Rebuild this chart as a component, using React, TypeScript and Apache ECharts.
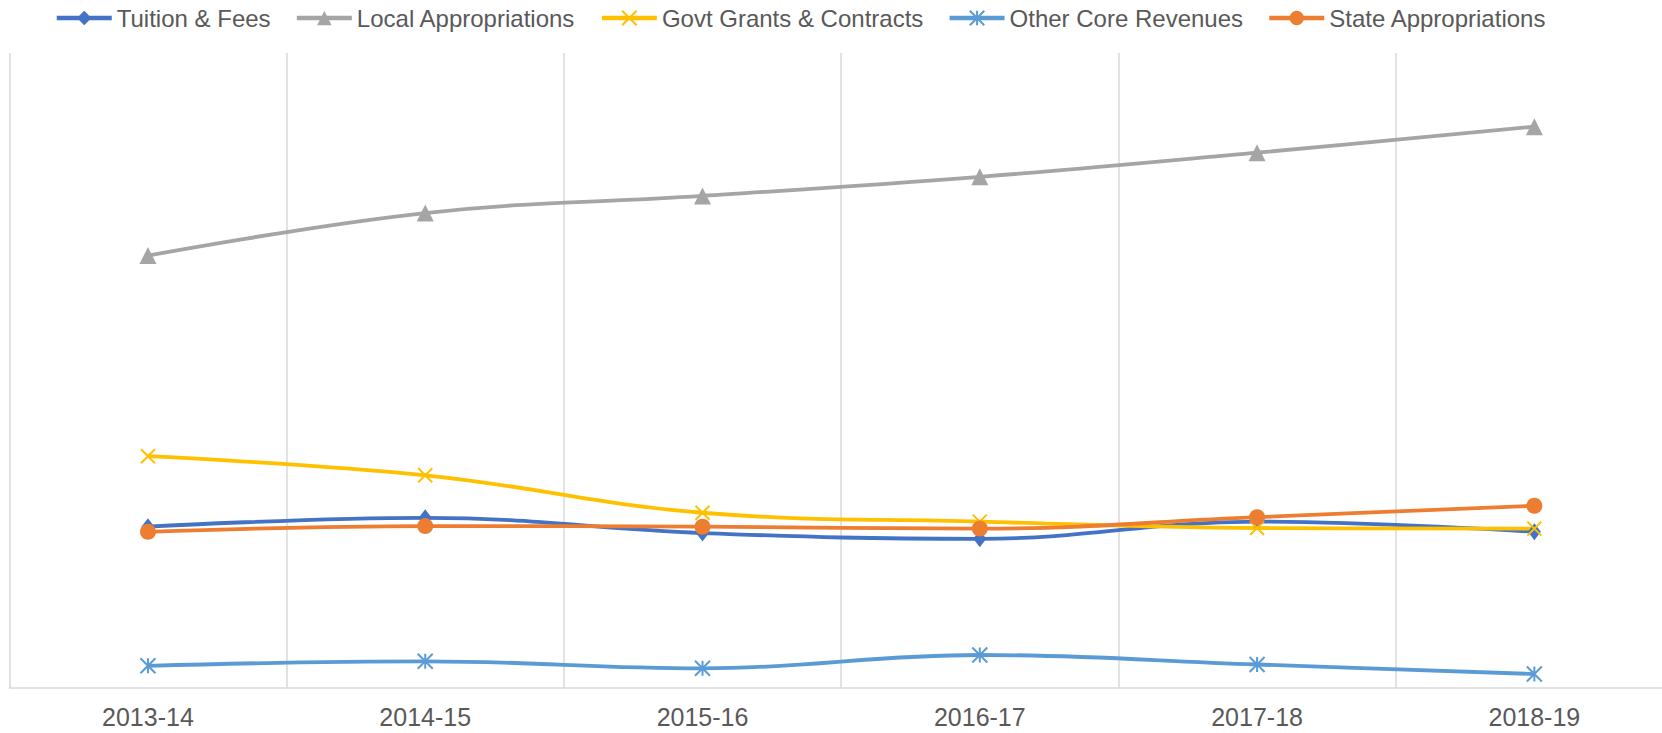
import React, { useEffect, useRef } from "react";
import * as echarts from "echarts";

const categories = ["2013-14", "2014-15", "2015-16", "2016-17", "2017-18", "2018-19"];
const tuitionFees = [25.4, 26.8, 24.4, 23.5, 26.2, 24.6];
const localAppropriations = [68.1, 74.8, 77.5, 80.5, 84.3, 88.4];
const govtGrants = [36.5, 33.5, 27.6, 26.2, 25.2, 25.1];
const otherCore = [3.5, 4.2, 3.1, 5.2, 3.7, 2.2];
const stateAppropriations = [24.6, 25.5, 25.4, 25.1, 26.9, 28.7];

const CROSS = "path://M0,0L10,10M10,0L0,10";
const STAR = "path://M5,0L5,10M0,0L10,10M10,0L0,10";

export default function App() {
  const ref = useRef<HTMLDivElement>(null);
  useEffect(() => {
    if (!ref.current) return;
    const chart = echarts.init(ref.current, undefined, { renderer: "svg" });
    const mk = (name: string, data: number[], color: string, symbol: string, size: any, stroke: boolean) => ({
      name,
      type: "line",
      data,
      smooth: 0.4,
      symbol,
      symbolSize: size,
      showSymbol: true,
      lineStyle: { color, width: 3.8 },
      itemStyle: stroke
        ? { color: "rgba(0,0,0,0)", borderColor: color, borderWidth: 2 }
        : { color, borderWidth: 0 },
      emphasis: { disabled: true },
    });
    chart.setOption({
      animation: false,
      textStyle: { fontFamily: "Liberation Sans, Arial, sans-serif" },
      legend: {
        top: 6,
        left: 54.5,
        padding: 0,
        itemWidth: 55,
        itemHeight: 18,
        itemGap: 24,
        lineStyle: { width: 4.5 },
        textStyle: { fontSize: 24, color: "#595959", fontFamily: "Liberation Sans, Arial, sans-serif" },
        data: [
          "Tuition & Fees",
          "Local Appropriations",
          "Govt Grants & Contracts",
          "Other Core Revenues",
          "State Appropriations",
        ],
      },
      grid: { left: 9.3, right: 0, top: 53, bottom: 45, containLabel: false },
      xAxis: {
        type: "category",
        data: categories,
        boundaryGap: true,
        axisTick: { show: false },
        axisLine: { lineStyle: { color: "#D9D9D9", width: 1.5 } },
        splitLine: { show: true, lineStyle: { color: "#D9D9D9", width: 1.5 } },
        axisLabel: { fontSize: 25, color: "#595959", margin: 16, fontFamily: "Liberation Sans, Arial, sans-serif" },
      },
      yAxis: {
        type: "value",
        min: 0,
        max: 100,
        show: false,
        splitLine: { show: false },
      },
      series: [
        mk("Tuition & Fees", tuitionFees, "#4472C4", "diamond", [13, 17], false),
        mk("Local Appropriations", localAppropriations, "#A5A5A5", "triangle", 17, false),
        mk("Govt Grants & Contracts", govtGrants, "#FFC000", CROSS, 14, true),
        mk("Other Core Revenues", otherCore, "#5B9BD5", STAR, 15, true),
        mk("State Appropriations", stateAppropriations, "#ED7D31", "circle", 16, false),
      ],
    });
    return () => chart.dispose();
  }, []);
  return (
    <div style={{ position: "fixed", left: 0, top: 0, width: 1662, height: 733, overflow: "hidden", background: "#fff" }}>
      <div ref={ref} style={{ width: 1673, height: 733 }} />
    </div>
  );
}
